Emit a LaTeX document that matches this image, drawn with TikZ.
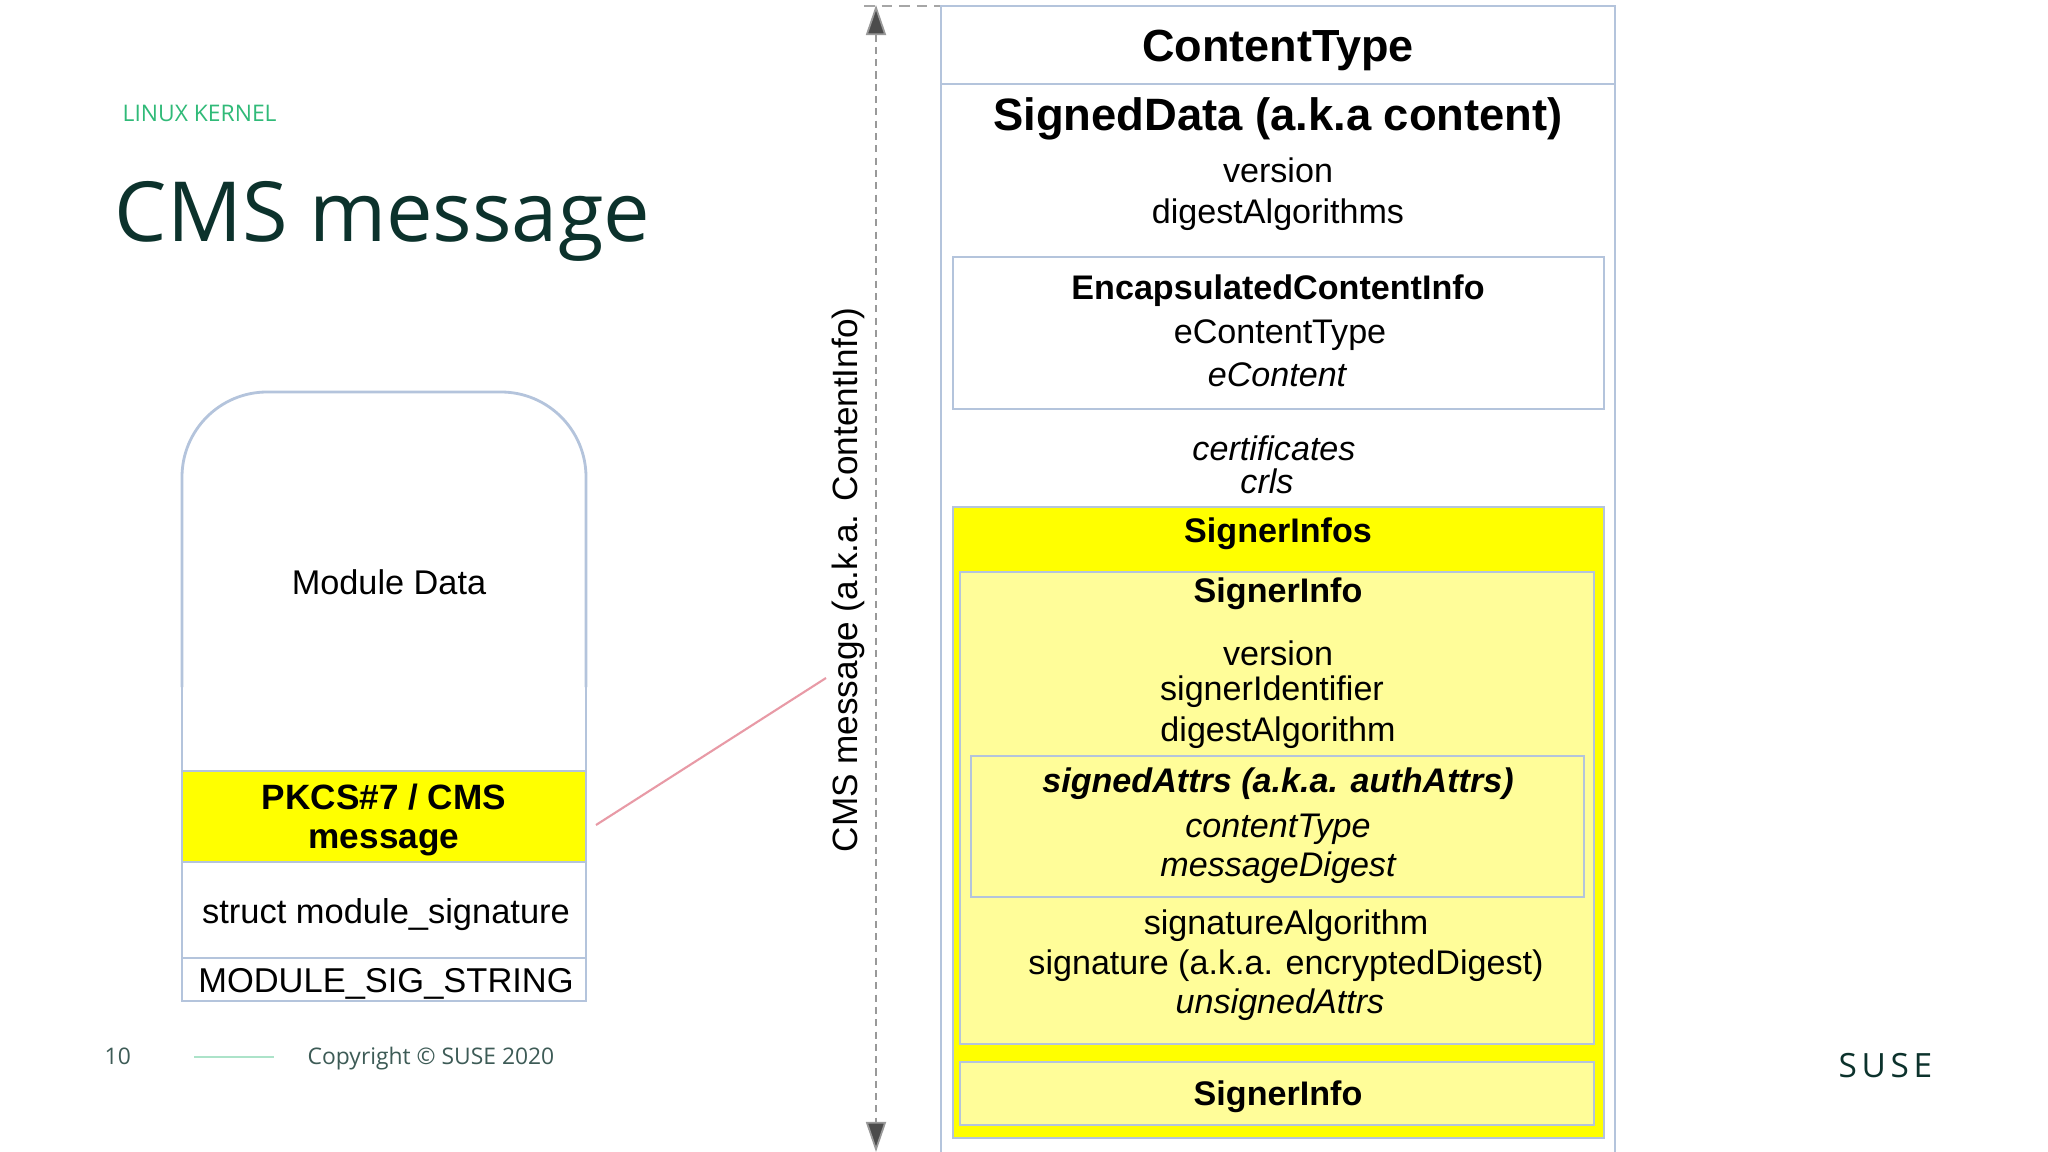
\documentclass[tikz,border=0pt]{standalone}
\usepackage{fontspec}
\setmainfont{Liberation Sans}
\newfontfamily\susefont{Open Sans}
\newfontfamily\susewide[LetterSpace=14]{Open Sans}
\usetikzlibrary{arrows.meta}
\definecolor{bd}{HTML}{B4C4DC}
\definecolor{yl}{HTML}{FFFF00}
\definecolor{ly}{HTML}{FFFD99}
\definecolor{sgreen}{HTML}{30BA78}
\definecolor{dgreen}{HTML}{0C322C}
\definecolor{pinkl}{HTML}{E89AA6}
\newcommand{\fs}[1]{\fontsize{#1}{#1}\selectfont}
\tikzset{
  box/.style={draw=bd, line width=0.8pt},
  txt/.style={inner sep=0pt, font=\fs{9.7pt}},
  itxt/.style={inner sep=0pt, font=\fs{9.7pt}\itshape},
  btxt/.style={inner sep=0pt, font=\fs{9.7pt}\bfseries},
}
\begin{document}
\begin{tikzpicture}[x=0.01cm,y=-0.01cm]
\useasboundingbox (0,0) rectangle (2048,1152);
\fill[white] (0,0) rectangle (2048,1152);
% header
\node[anchor=base west, inner sep=0pt, text=sgreen, font=\susefont\fs{6.5pt}] (lk) at (122,122) {LINUX KERNEL};
\node[anchor=base west, inner sep=0pt, text=dgreen, font=\susefont\fs{23.6pt}] (title) at (114,242) {CMS message};
% footer
\node[anchor=base west, inner sep=0pt, text=dgreen!80, font=\susefont\fs{6.5pt}] (pg) at (104,1064) {10};
\draw[sgreen!40, line width=0.6pt] (194,1057) -- (274,1057);
\node[anchor=base west, inner sep=0pt, text=dgreen!80, font=\susefont\fs{6.5pt}] (cp) at (307,1064) {Copyright \textcopyright{} SUSE 2020};
\node[anchor=base west, inner sep=0pt, text=dgreen, font=\susewide\fs{9.5pt}] (suse) at (1838,1077) {SUSE};
% module layout
\draw[box, rounded corners=0.85cm] (182,687) -- (182,392) -- (586,392) -- (586,687);
\fill[yl] (182,771) rectangle (586,862);
\draw[box] (182,771) rectangle (586,862);
\draw[box] (182,862) rectangle (586,958);
\draw[box] (182,958) rectangle (586,1001);
\draw[box] (182,687) -- (182,771);
\draw[box] (586,687) -- (586,771);
\node[txt, font=\fs{9.75pt}] (md) at (389,582) {Module Data};
\node[inner sep=0pt, align=center, font=\fs{10pt}\bfseries] (pk) at (384,820) {PKCS\#7 / CMS\\[1pt]message};
\node[txt, font=\fs{9.8pt}] (ms) at (386,915) {struct module\_signature};
\node[txt, font=\fs{9.8pt}] (mss) at (386,984) {MODULE\_SIG\_STRING};
\coordinate (ra) at (596,825);
\coordinate (rb) at (826,678);
\draw[pinkl, line width=0.6pt] (ra) -- (rb);
% dimension arrow
\coordinate (at) at (876,5);
\coordinate (ab) at (876,1152);
\draw[gray!70, densely dashed, line width=0.5pt] (864,6) -- (940,6);
\draw[gray!80, dash pattern=on 2pt off 1.5pt, line width=0.5pt, {Triangle[length=0.3cm,width=0.2cm,fill=black!70]}-{Triangle[length=0.3cm,width=0.2cm,fill=black!70]}] (at) -- (ab);
\node[rotate=90, inner sep=0pt, font=\fs{10pt}] (cmsl) at (848,580) {CMS message (a.k.a. ContentInfo)};
% right structure
\draw[box] (941,1152) -- (941,6) -- (1615,6) -- (1615,1152);
\draw[box] (941,84) -- (1615,84);
\node[inner sep=0pt, font=\fs{12.8pt}\bfseries] (ct) at (1278,50) {ContentType};
\node[inner sep=0pt, font=\fs{12.9pt}\bfseries] (sd) at (1278,119) {SignedData (a.k.a content)};
\node[txt] (v1) at (1278,170) {version};
\node[txt] (da) at (1278,215) {digestAlgorithms};
\draw[box] (953,257) rectangle (1604,409);
\node[btxt] (eci) at (1278,291) {EncapsulatedContentInfo};
\node[txt] (ect) at (1280,335) {eContentType};
\node[itxt] (ec) at (1277,375) {eContent};
\node[itxt] (cert) at (1274,448) {certificates};
\node[itxt] (crl) at (1267,481) {crls};
\fill[yl] (953,507) rectangle (1604,1138);
\draw[box] (953,507) rectangle (1604,1138);
\node[btxt] (sis) at (1278,534) {SignerInfos};
\fill[ly] (960,572) rectangle (1594,1044);
\draw[box] (960,572) rectangle (1594,1044);
\node[btxt] (si1) at (1278,594) {SignerInfo};
\node[txt] (v2) at (1278,653) {version};
\node[txt] (sid) at (1272,692) {signerIdentifier};
\node[txt] (dga) at (1278,733) {digestAlgorithm};
\draw[box] (971,756) rectangle (1584,897);
\node[inner sep=0pt, font=\fs{9.7pt}\bfseries\itshape] (sa) at (1278,784) {signedAttrs (a.k.a. authAttrs)};
\node[itxt] (ctp) at (1278,829) {contentType};
\node[itxt] (mdg) at (1278,868) {messageDigest};
\node[txt] (sga) at (1286,926) {signatureAlgorithm};
\node[txt] (sig) at (1286,966) {signature (a.k.a. encryptedDigest)};
\node[itxt] (usa) at (1280,1005) {unsignedAttrs};
\fill[ly] (960,1062) rectangle (1594,1125);
\draw[box] (960,1062) rectangle (1594,1125);
\node[btxt] (si2) at (1278,1097) {SignerInfo};
\end{tikzpicture}
\end{document}
